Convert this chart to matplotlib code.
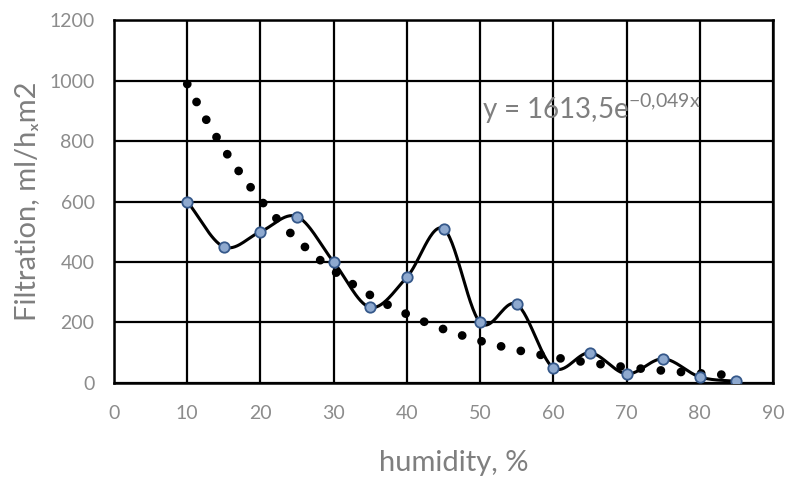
import numpy as np
import matplotlib
matplotlib.use("Agg")
import matplotlib.pyplot as plt

plt.rcParams['font.family'] = ['Lato', 'DejaVu Sans']

# data
humidity = [10, 15, 20, 25, 30, 35, 40, 45, 50, 55, 60, 65, 70, 75, 80, 85]
filtration = [600, 450, 500, 550, 400, 250, 350, 510, 200, 260, 50, 100, 30, 80, 20, 5]

# exponential trendline as printed on the chart
trend_a = 1613.5
trend_b = -0.049
trend_label = r"y = 1613,5e$\mathregular{^{-0{,}049x}}$"

x_ticks = list(range(0, 91, 10))
y_ticks = list(range(0, 1201, 200))


def smooth(xs, ys, n=30):
    # catmull-rom through the points, similar to Excel's smoothed line
    xs = np.asarray(xs, float)
    ys = np.asarray(ys, float)
    px = np.concatenate([[2 * xs[0] - xs[1]], xs, [2 * xs[-1] - xs[-2]]])
    py = np.concatenate([[2 * ys[0] - ys[1]], ys, [2 * ys[-1] - ys[-2]]])
    ox, oy = [], []
    t = np.linspace(0, 1, n, endpoint=False)
    for i in range(1, len(px) - 2):
        for p, out in ((px, ox), (py, oy)):
            p0, p1, p2, p3 = p[i - 1], p[i], p[i + 1], p[i + 2]
            out.extend(0.5 * ((2 * p1) + (-p0 + p2) * t
                              + (2 * p0 - 5 * p1 + 4 * p2 - p3) * t ** 2
                              + (-p0 + 3 * p1 - 3 * p2 + p3) * t ** 3))
    ox.append(xs[-1])
    oy.append(ys[-1])
    return np.array(ox), np.array(oy)


fig = plt.figure(figsize=(7.94, 4.82), dpi=100)
ax = fig.add_axes([0.1436, 0.2054, 0.8300, 0.7531])

# trendline, round dots
tx = np.linspace(humidity[0], humidity[-1], 400)
ax.plot(tx, trend_a * np.exp(trend_b * tx), color='black', lw=6.3,
        linestyle=(0, (0.01, 2.3)), dash_capstyle='round', zorder=3)

sx, sy = smooth(humidity, filtration)
ax.plot(sx, sy, color='black', lw=2.2, zorder=4)
ax.plot(humidity, filtration, linestyle='none', marker='o', ms=7.5,
        mfc='#8ea9cf', mec='#35588a', mew=1.3, zorder=5)

ax.text(50.3, 872, trend_label, fontsize=20, color='#7f7f7f')

ax.set_xlim(0, 90)
ax.set_ylim(0, 1200)
ax.set_xticks(x_ticks)
ax.set_yticks(y_ticks)
ax.grid(True, color='black', lw=1.6)
ax.set_axisbelow(True)
for s in ax.spines.values():
    s.set_color('black')
    s.set_linewidth(1.8)
ax.tick_params(length=0, labelsize=14, labelcolor='#8c8c8c')
ax.tick_params(axis='x', pad=16)
ax.tick_params(axis='y', pad=14)

ax.set_xlabel("humidity, %", fontsize=21, color='#7f7f7f')
ax.set_ylabel("Filtration, ml/hₓm2", fontsize=21, color='#7f7f7f')
ax.xaxis.set_label_coords(0.516, -0.185)
ax.yaxis.set_label_coords(-0.112, 0.5)

fig.savefig("out.png", dpi=100)
